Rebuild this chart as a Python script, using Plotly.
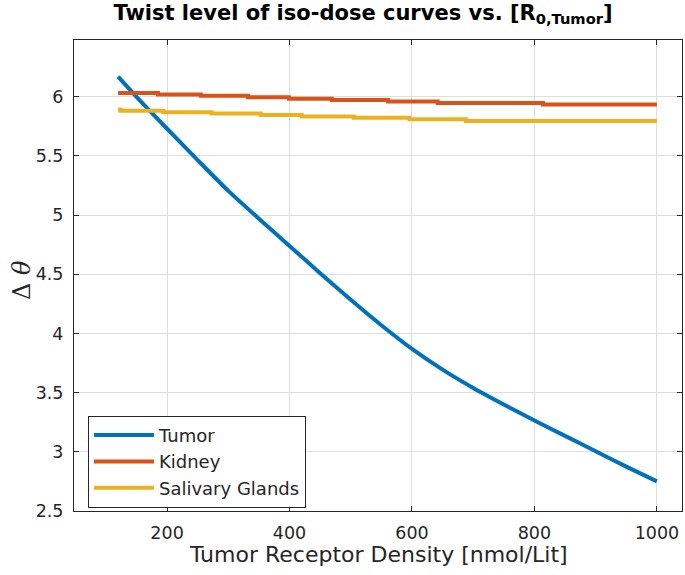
import plotly.graph_objects as go

# Tumor curve
tumor_x = [120, 150, 200, 250, 300, 350, 400, 450, 500, 550, 600, 650, 700, 750, 800, 850, 900, 950, 1000]
tumor_y = [6.17, 6.00, 5.73, 5.465, 5.205, 4.97, 4.74, 4.51, 4.285, 4.07, 3.87, 3.695, 3.54, 3.40, 3.265, 3.135, 3.005, 2.875, 2.75]

# Kidney (step-like)
kidney_x = [120, 185, 255, 332, 399, 469, 561, 642, 814, 1000]
kidney_y = [6.032, 6.020, 6.008, 5.996, 5.984, 5.972, 5.960, 5.948, 5.936, 5.936]

# Salivary glands (step-like)
saliv_x = [120, 124, 194, 273, 353, 420, 505, 596, 688, 1000]
saliv_y = [5.893, 5.882, 5.870, 5.858, 5.846, 5.834, 5.822, 5.810, 5.795, 5.795]

names = ["Tumor", "Kidney", "Salivary Glands"]
colors = ["#0072BD", "#D95319", "#EDB120"]

x_ticks = [200, 400, 600, 800, 1000]
y_ticks = [2.5, 3, 3.5, 4, 4.5, 5, 5.5, 6]

fig = go.Figure()
fig.add_trace(go.Scatter(x=tumor_x, y=tumor_y, mode="lines", name=names[0],
                         line=dict(color=colors[0], width=4, shape="spline", smoothing=0.6)))
fig.add_trace(go.Scatter(x=kidney_x, y=kidney_y, mode="lines", name=names[1],
                         line=dict(color=colors[1], width=4, shape="hv")))
fig.add_trace(go.Scatter(x=saliv_x, y=saliv_y, mode="lines", name=names[2],
                         line=dict(color=colors[2], width=4, shape="hv")))

axis_common = dict(
    showline=True, linecolor="#262626", linewidth=1, mirror="ticks",
    ticks="inside", ticklen=5, tickcolor="#262626",
    showgrid=True, gridcolor="#dedede", gridwidth=1, zeroline=False,
    automargin=False, ticklabelstandoff=6,
    tickfont=dict(family="DejaVu Sans", size=17.5, color="#262626"),
)

W, H = 685, 575

fig.update_layout(
    width=W, height=H,
    margin=dict(l=74, r=3, t=40, b=64),
    paper_bgcolor="white", plot_bgcolor="white",
    title=dict(text="<b>Twist level of iso-dose curves vs. [R<sub>0,Tumor</sub>]</b>",
               xref="container", yref="container",
               x=363 / W, xanchor="center", y=1 - 12.5 / H, yanchor="middle",
               font=dict(family="DejaVu Sans", size=21, color="black")),
    xaxis=dict(range=[48, 1041], tickvals=x_ticks, **axis_common),
    yaxis=dict(range=[2.5, 6.48], tickvals=y_ticks, **axis_common),
    legend=dict(x=0.023, y=0.202, xanchor="left", yanchor="top",
                bgcolor="white", bordercolor="#262626", borderwidth=1,
                font=dict(family="DejaVu Sans", size=18, color="#262626"),
                itemwidth=60, tracegroupgap=0),
    showlegend=True,
    annotations=[
        dict(text="Tumor Receptor Density [nmol/Lit]", xref="paper", yref="paper",
             x=0.5, y=-(554 - 511) / 471, xanchor="center", yanchor="middle",
             showarrow=False, font=dict(family="DejaVu Sans", size=22, color="#262626")),
        dict(text="Δ <i>θ</i>", xref="paper", yref="paper",
             x=-(74 - 22) / 608, y=(511 - 280) / 471, xanchor="center", yanchor="middle",
             textangle=-90, showarrow=False,
             font=dict(family="DejaVu Serif", size=24, color="#262626")),
    ],
)

# remove the browser's default 8px page margin so the figure fills the window
fig.write_html("out.html",
               config={"displayModeBar": False},
               post_script="document.body.style.margin='0';document.body.style.overflow='hidden';")
